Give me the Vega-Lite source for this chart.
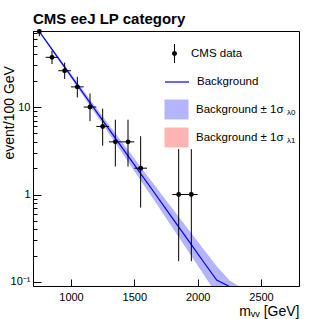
{
  "$schema": "https://vega.github.io/schema/vega-lite/v6.json",
  "width": 266,
  "height": 255,
  "autosize": {"type": "none"},
  "padding": {"left": 33, "top": 31, "right": 33, "bottom": 33},
  "background": "white",
  "config": {
    "font": "Liberation Sans",
    "view": {"stroke": "black", "strokeWidth": 1},
    "axis": {"domainColor": "black", "tickColor": "black", "labelColor": "black", "titleColor": "black", "grid": false, "labelFont": "Liberation Sans", "titleFont": "Liberation Sans"},
    "legend": {"labelFont": "Liberation Sans", "labelColor": "black", "padding": 0, "offset": 0}
  },
  "title": {"text": "CMS eeJ LP category", "anchor": "start", "frame": "group", "fontSize": 15, "fontWeight": "bold", "font": "Liberation Sans", "color": "black", "offset": 7, "dy": 19, "baseline": "alphabetic"},
  "datasets": {
    "bkg": [
      {"m": 750, "fit": 73, "lo": 71, "hi": 75},
      {"m": 850, "fit": 45.7, "lo": 44.1, "hi": 47.3},
      {"m": 950, "fit": 28.6, "lo": 27.3, "hi": 30.0},
      {"m": 1050, "fit": 17.9, "lo": 16.8, "hi": 19.1},
      {"m": 1150, "fit": 11.2, "lo": 10.3, "hi": 12.2},
      {"m": 1250, "fit": 7.05, "lo": 6.36, "hi": 7.81},
      {"m": 1350, "fit": 4.42, "lo": 3.89, "hi": 5.02},
      {"m": 1450, "fit": 2.77, "lo": 2.38, "hi": 3.22},
      {"m": 1550, "fit": 1.73, "lo": 1.45, "hi": 2.07},
      {"m": 1650, "fit": 1.09, "lo": 0.888, "hi": 1.34},
      {"m": 1750, "fit": 0.681, "lo": 0.538, "hi": 0.862},
      {"m": 1850, "fit": 0.427, "lo": 0.327, "hi": 0.557},
      {"m": 1950, "fit": 0.267, "lo": 0.198, "hi": 0.36},
      {"m": 2050, "fit": 0.167, "lo": 0.12, "hi": 0.233},
      {"m": 2150, "fit": 0.105, "lo": 0.0728, "hi": 0.151},
      {"m": 2250, "fit": 0.089, "lo": 0.05, "hi": 0.105},
      {"m": 2350, "fit": 0.06, "lo": 0.03, "hi": 0.085}
    ],
    "obs": [
      {"m": 750, "ml": 700, "mh": 800, "n": 73, "elo": 64.5, "ehi": 82.6},
      {"m": 850, "ml": 800, "mh": 900, "n": 37, "elo": 31.0, "ehi": 44.1},
      {"m": 950, "ml": 900, "mh": 1000, "n": 26, "elo": 20.95, "ehi": 32.2},
      {"m": 1050, "ml": 1000, "mh": 1100, "n": 17, "elo": 12.9, "ehi": 22.2},
      {"m": 1150, "ml": 1100, "mh": 1200, "n": 10, "elo": 6.89, "ehi": 14.27},
      {"m": 1250, "ml": 1200, "mh": 1300, "n": 6, "elo": 3.62, "ehi": 9.58},
      {"m": 1350, "ml": 1300, "mh": 1400, "n": 4, "elo": 2.09, "ehi": 7.16},
      {"m": 1450, "ml": 1400, "mh": 1500, "n": 4, "elo": 2.09, "ehi": 7.16},
      {"m": 1550, "ml": 1500, "mh": 1600, "n": 2, "elo": 0.708, "ehi": 4.64},
      {"m": 1850, "ml": 1800, "mh": 1900, "n": 1, "elo": 0.173, "ehi": 3.3},
      {"m": 1950, "ml": 1900, "mh": 2000, "n": 1, "elo": 0.173, "ehi": 3.3}
    ]
  },
  "encoding": {
    "x": {"type": "quantitative", "scale": {"domain": [700, 2800], "nice": false, "zero": false},
      "axis": {"values": [1000, 1500, 2000, 2500], "format": "d", "tickSize": -7, "labelFontSize": 11, "labelPadding": 12, "labelFlush": false, "labelOverlap": false,
        "title": "mᵥᵥ [GeV]", "titleFontSize": 14, "titleFontWeight": "normal", "titleAnchor": "end", "titleAlign": "right", "titleX": 266, "titleY": 29, "titleBaseline": "alphabetic"}},
    "y": {"type": "quantitative", "scale": {"type": "log", "domain": [0.09, 74], "nice": false},
      "axis": {"values": [0.1, 0.2, 0.3, 0.4, 0.5, 0.6, 0.7, 0.8, 0.9, 1, 2, 3, 4, 5, 6, 7, 8, 9, 10, 20, 30, 40, 50, 60, 70],
        "tickSize": {"condition": {"test": "datum.value == 0.1 || datum.value == 1 || datum.value == 10", "value": -8}, "value": -4},
        "labelExpr": "datum.value == 0.1 ? '10⁻¹' : datum.value == 1 ? '1' : datum.value == 10 ? '10' : ''",
        "labelFontSize": 11, "labelPadding": 11, "labelFlush": false, "labelOverlap": false,
        "title": "event/100 GeV", "titleFontSize": 14, "titleFontWeight": "normal", "titleAngle": -90, "titleAlign": "left", "titleX": -20, "titleY": 128, "titleBaseline": "alphabetic"}}
  },
  "layer": [
    {
      "data": {"name": "bkg"},
      "mark": {"type": "area", "opacity": 1, "clip": true},
      "encoding": {
        "x": {"field": "m", "type": "quantitative"},
        "y": {"field": "hi", "type": "quantitative"},
        "y2": {"field": "lo"},
        "fill": {"datum": "b0", "scale": {"domain": ["b0", "b1"], "range": ["#b4b4ff", "#ffb4b4"]},
          "legend": {"title": null, "orient": "none", "legendX": 131, "legendY": 66, "symbolType": "M-1,-0.83H1V0.83H-1Z", "symbolSize": 576, "rowPadding": 5, "labelOffset": 7, "labelFontSize": 11.5, "labelExpr": "'Background ± 1σ'", "symbolStrokeWidth": 1,
            "encode": {"symbols": {"update": {"stroke": {"signal": "datum.value == 'b0' ? '#8a8aff' : '#ff8a8a'"}, "strokeWidth": {"value": 1}}}}}}
      }
    },
    {
      "data": {"name": "bkg"},
      "mark": {"type": "line", "strokeWidth": 1.2, "clip": true},
      "encoding": {
        "x": {"field": "m", "type": "quantitative"},
        "y": {"field": "fit", "type": "quantitative"},
        "stroke": {"datum": "Background", "scale": {"domain": ["Background"], "range": ["#0000ff"]},
          "legend": {"title": null, "orient": "none", "legendX": 131, "legendY": 38, "symbolType": "stroke", "symbolSize": 576, "symbolStrokeWidth": 1.2, "labelOffset": 7, "labelFontSize": 11.5}}
      }
    },
    {
      "data": {"name": "obs"},
      "mark": {"type": "rule", "color": "black", "strokeWidth": 1, "clip": true},
      "encoding": {
        "x": {"field": "m", "type": "quantitative"},
        "y": {"field": "elo", "type": "quantitative"},
        "y2": {"field": "ehi"},
        "opacity": {"datum": "λ0", "scale": {"domain": ["λ0", "λ1"], "range": [1, 1]},
          "legend": {"title": null, "orient": "none", "legendX": 246, "legendY": 78, "symbolSize": 0, "symbolOpacity": 0, "rowPadding": 20, "labelOffset": 0, "labelFontSize": 8}}
      }
    },
    {
      "data": {"name": "obs"},
      "mark": {"type": "rule", "color": "black", "strokeWidth": 1, "clip": true},
      "encoding": {
        "x": {"field": "ml", "type": "quantitative"},
        "x2": {"field": "mh"},
        "y": {"field": "n", "type": "quantitative"}
      }
    },
    {
      "data": {"name": "obs"},
      "mark": {"type": "point", "filled": true, "size": 24, "opacity": 1, "clip": false},
      "encoding": {
        "x": {"field": "m", "type": "quantitative"},
        "y": {"field": "n", "type": "quantitative"},
        "color": {"datum": "CMS data", "scale": {"domain": ["CMS data"], "range": ["black"]},
          "legend": {"title": null, "orient": "none", "legendX": 132, "legendY": 13, "symbolType": "M-0.26,0A0.26,0.26,0,1,1,0.26,0A0.26,0.26,0,1,1,-0.26,0ZM-0.053,-1H0.053V-0.25H-0.053ZM-0.053,0.25H0.053V1H-0.053Z", "symbolSize": 361, "symbolStrokeWidth": 0, "labelOffset": 7, "labelFontSize": 11.5}}
      }
    }
  ]
}
